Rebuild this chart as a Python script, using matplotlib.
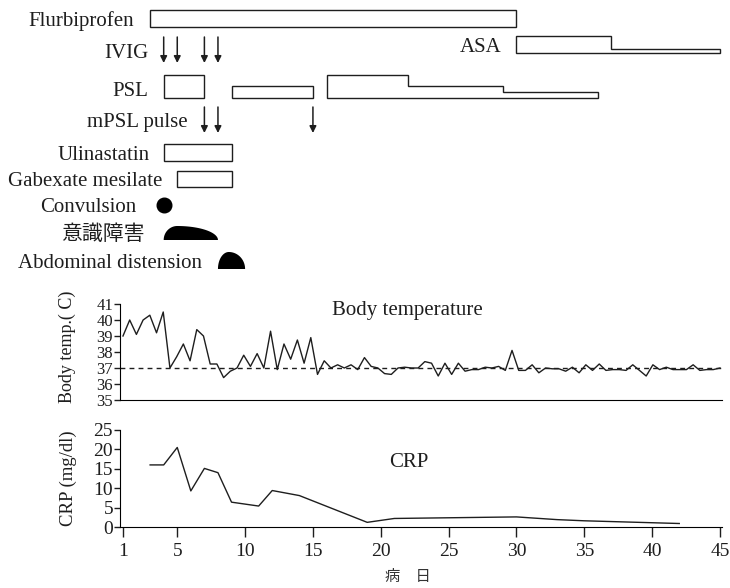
import numpy as np
import matplotlib
matplotlib.use('Agg')
import matplotlib.pyplot as plt
from matplotlib.patches import Polygon

plt.rcParams['font.family'] = ['Liberation Serif', 'Noto Sans CJK JP']

# treatment course, in days of illness: (start, end, dose level)
flurbiprofen = [(3, 30, 'full')]
asa = [(30, 37, 'full'), (37, 45, 'low')]
psl = [(4, 7, 'full'), (9, 15, 'mid'), (16, 22, 'full'), (22, 29, 'mid'), (29, 36, 'low')]
ulinastatin = [(4, 9, 'full')]
gabexate = [(5, 9, 'full')]
ivig_days = [4, 5, 7, 8]
mpsl_days = [7, 8, 15]
convulsion_day = 4
consciousness = (4, 5, 8)      # start, worst, end
abdominal = (8, 8.8, 10)

# body temperature, twice a day from day 1 to day 45
temp = [
    39.0, 40.0, 39.1, 40.0, 40.3, 39.2, 40.5, 37.0, 37.7, 38.5,
    37.45, 39.4, 39.0, 37.25, 37.25, 36.4, 36.8, 37.0, 37.8, 37.1,
    37.9, 37.0, 39.3, 36.9, 38.5, 37.55, 38.75, 37.3, 38.9, 36.6,
    37.45, 37.0, 37.2, 37.0, 37.2, 36.9, 37.65, 37.1, 37.0, 36.65,
    36.6, 37.0, 37.05, 37.0, 37.0, 37.4, 37.3, 36.5, 37.3, 36.6,
    37.3, 36.8, 36.9, 36.9, 37.05, 37.0, 37.1, 36.85, 38.1, 36.85,
    36.85, 37.2, 36.7, 37.0, 36.95, 36.95, 36.8, 37.05, 36.7, 37.2,
    36.85, 37.25, 36.85, 36.9, 36.9, 36.85, 37.2, 36.85, 36.5, 37.2,
    36.9, 37.05, 36.9, 36.9, 36.9, 37.2, 36.85, 36.9, 36.9, 37.0,
]
temp_days = np.linspace(1, 45, len(temp))

crp_days = [3, 4, 5, 6, 7, 8, 9, 11, 12, 14, 19, 21, 30, 33, 35, 42]
crp = [16, 16, 20.5, 9.3, 15.1, 14, 6.4, 5.4, 9.4, 8.1, 1.2, 2.2, 2.6, 1.9, 1.6, 0.9]

day_ticks = [1, 5, 10, 15, 20, 25, 30, 35, 40, 45]

INK = '#1e1e1e'
W, H = 730, 588
XLIM = (0.78, 45.15)
LEFT, RIGHT = 120 / W, 722 / W


def step_box(ax, segs, base, heights):
    # contiguous segments share one outline
    runs = []
    for s, e, lvl in segs:
        if runs and runs[-1][-1][1] == s:
            runs[-1].append((s, e, lvl))
        else:
            runs.append([(s, e, lvl)])
    for run in runs:
        pts = [(run[0][0], base)]
        for s, e, lvl in run:
            top = base - heights[lvl]
            pts += [(s, top), (e, top)]
        pts.append((run[-1][1], base))
        ax.add_patch(Polygon(pts, closed=True, fill=False, ec=INK, lw=1.0))


def dome(ax, start, peak, end, base, h):
    t = np.linspace(0, np.pi / 2, 40)
    xs = np.r_[peak - (peak - start) * np.cos(t), peak + (end - peak) * np.sin(t)]
    ys = np.r_[base - h * np.sin(t), base - h * np.cos(t)]
    ax.fill(xs, ys, color='black', lw=0)


def arrows(ax, days, y0, y1):
    for d in days:
        ax.annotate('', xy=(d, y1), xytext=(d, y0),
                    arrowprops=dict(arrowstyle='-|>', color=INK, lw=1.1,
                                    mutation_scale=10, shrinkA=0, shrinkB=0))


def label(ax, text, x, y, gap):
    ax.annotate(text, xy=(x, y), xytext=(-gap, -3), textcoords='offset pixels',
                ha='right', va='center', fontsize=15, color=INK,
                annotation_clip=False)


def main():
    fig = plt.figure(figsize=(W / 100, H / 100), dpi=100)

    # ---- treatment timeline (y in pixel rows) ----
    top = fig.add_axes([LEFT, 1 - 290 / H, RIGHT - LEFT, 290 / H])
    top.set_xlim(XLIM)
    top.set_ylim(290, 0)
    top.axis('off')

    step_box(top, flurbiprofen, 27, {'full': 17})
    label(top, 'Flurbiprofen', flurbiprofen[0][0], 18, 16)

    arrows(top, ivig_days, 37, 63)
    label(top, 'IVIG', ivig_days[0], 50, 15)

    step_box(top, asa, 53, {'full': 17, 'low': 4})
    label(top, 'ASA', asa[0][0], 45, 15)

    step_box(top, psl, 98, {'full': 23, 'mid': 12, 'low': 6})
    label(top, 'PSL', psl[0][0], 88, 15)

    arrows(top, mpsl_days, 107, 133)
    label(top, 'mPSL pulse', mpsl_days[0], 120, 17)

    step_box(top, ulinastatin, 161, {'full': 17})
    label(top, 'Ulinastatin', ulinastatin[0][0], 152, 14)

    step_box(top, gabexate, 187, {'full': 16})
    label(top, 'Gabexate mesilate', gabexate[0][0], 178, 15)

    top.plot(convulsion_day, 205, 'o', color='black', ms=10.5)
    label(top, 'Convulsion', convulsion_day, 204, 27)

    dome(top, *consciousness, 240, 14)
    label(top, '意識障害', consciousness[0], 232, 19)

    dome(top, *abdominal, 269, 17)
    label(top, 'Abdominal distension', abdominal[0], 261, 16)

    # ---- body temperature ----
    ax_t = fig.add_axes([LEFT, 1 - 400 / H, RIGHT - LEFT, 96 / H])
    ax_t.plot(temp_days, temp, color=INK, lw=1.0)
    ax_t.axhline(37, color=INK, lw=1.0, ls=(0, (3.5, 3)))
    ax_t.set_xlim(XLIM)
    ax_t.set_ylim(35, 41)
    ax_t.set_yticks(range(35, 42))
    ax_t.set_xticks([])
    ax_t.spines[['top', 'right']].set_visible(False)
    ax_t.tick_params(axis='y', length=4, width=1, labelsize=12, pad=1, colors=INK)
    ax_t.set_ylabel('Body temp.( C)', fontsize=13, color=INK)
    ax_t.yaxis.set_label_coords(-0.073, 0.55)
    ax_t.text(0.478, 0.93, 'Body temperature', transform=ax_t.transAxes,
              ha='center', va='center', fontsize=15, color=INK)

    # ---- CRP ----
    ax_c = fig.add_axes([LEFT, 1 - 527 / H, RIGHT - LEFT, 97 / H])
    ax_c.plot(crp_days, crp, color=INK, lw=1.0)
    ax_c.set_xlim(XLIM)
    ax_c.set_ylim(0, 25)
    ax_c.set_yticks(range(0, 26, 5))
    ax_c.set_xticks(day_ticks)
    ax_c.spines[['top', 'right']].set_visible(False)
    ax_c.tick_params(axis='y', length=4, width=1, labelsize=14, pad=1, colors=INK)
    ax_c.tick_params(axis='x', length=7.5, width=1, labelsize=14, pad=4, colors=INK)
    ax_c.set_ylabel('CRP (mg/dl)', fontsize=13.5, color=INK)
    ax_c.yaxis.set_label_coords(-0.072, 0.5)
    ax_c.text(0.48, 0.67, 'CRP', transform=ax_c.transAxes,
              ha='center', va='center', fontsize=15, color=INK)

    fig.text(408 / W, 1 - 577 / H, '病\u3000日', ha='center', va='center',
             fontsize=11, color='#333333')

    fig.savefig('out.png', dpi=100)


if __name__ == '__main__':
    main()
